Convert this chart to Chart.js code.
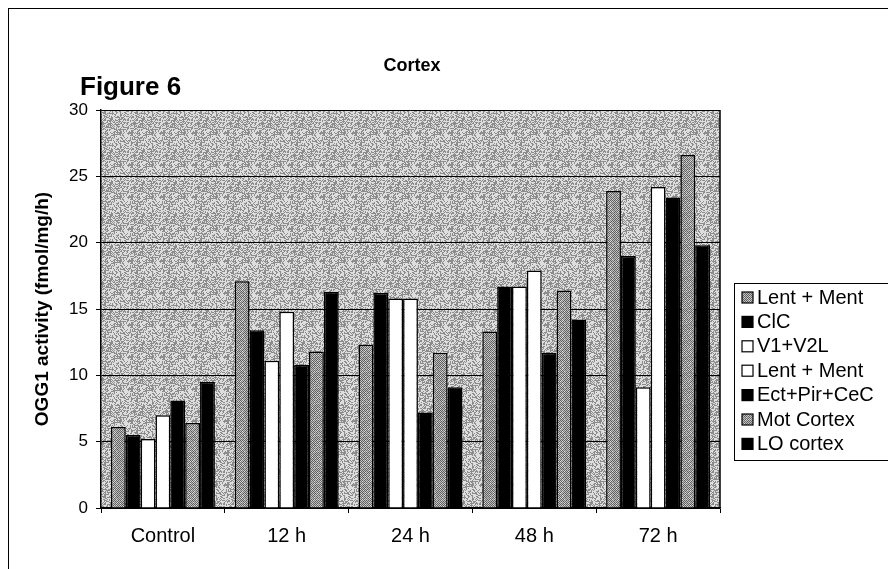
<!DOCTYPE html>
<html>
<head>
<meta charset="utf-8">
<script src="https://cdn.jsdelivr.net/npm/chart.js@4.4.0/dist/chart.umd.min.js"></script>
<style>
html, body { margin: 0; padding: 0; background: #fff; }
#wrap { width: 888px; height: 569px; position: relative; }
</style>
</head>
<body>
<div id="wrap"><canvas id="chart" width="888" height="569"></canvas></div>
<script>
// data
const categories = ['Control', '12 h', '24 h', '48 h', '72 h'];
const lentMentA = [6.1, 17.1, 12.3, 13.3, 23.9];
const clc = [5.5, 13.4, 16.2, 16.7, 19.0];
const v1v2l = [5.2, 11.1, 15.8, 16.7, 9.1];
const lentMentB = [7.0, 14.8, 15.8, 17.9, 24.2];
const ectPirCec = [8.1, 10.8, 7.2, 11.7, 23.4];
const motCortex = [6.4, 11.8, 11.7, 16.4, 26.6];
const loCortex = [9.5, 16.3, 9.1, 14.2, 19.8];
const seriesNames = ['Lent + Ment', 'ClC', 'V1+V2L', 'Lent + Ment', 'Ect+Pir+CeC', 'Mot Cortex', 'LO cortex'];
const yTicks = [0, 5, 10, 15, 20, 25, 30];

const FONT = '"Liberation Sans", Arial, sans-serif';
const canvas = document.getElementById('chart');
const ctx = canvas.getContext('2d');

// small deterministic stipple so the fills look like the scanned print
function hash(x, y) {
    let h = (x * 374761393 + y * 668265263) | 0;
    h = (h ^ (h >>> 13)) * 1274126177 | 0;
    return ((h ^ (h >>> 16)) >>> 0) / 4294967295;
}
function makePattern(size, shade) {
    const c = document.createElement('canvas');
    c.width = c.height = size;
    const g = c.getContext('2d');
    const img = g.createImageData(size, size);
    for (let y = 0; y < size; y++) {
        for (let x = 0; x < size; x++) {
            const v = shade(x, y);
            const i = (y * size + x) * 4;
            img.data[i] = img.data[i + 1] = img.data[i + 2] = v;
            img.data[i + 3] = 255;
        }
    }
    g.putImageData(img, 0, 0);
    return ctx.createPattern(c, 'repeat');
}
const plotBg = makePattern(32, (x, y) => hash(x, y) < 0.42 ? 140 : 222);
const grayFill = makePattern(16, (x, y) => ((x + y) % 2 === 0 ? 95 : 190) + (hash(x + 7, y + 3) < 0.2 ? 30 : 0));

const fills = [grayFill, '#000', '#fff', '#fff', '#000', grayFill, '#000'];
const values = [lentMentA, clc, v1v2l, lentMentB, ectPirCec, motCortex, loCortex];

const datasets = values.map((v, i) => ({
    label: seriesNames[i],
    data: v,
    backgroundColor: fills[i],
    borderColor: '#000',
    borderWidth: 1.5,
    categoryPercentage: 0.84,
    barPercentage: 1.0
}));

// background, frame, titles and the boxed legend
const decor = {
    id: 'decor',
    beforeDraw(chart) {
        const c = chart.ctx;
        const a = chart.chartArea;
        c.save();
        c.fillStyle = plotBg;
        c.fillRect(a.left, a.top, a.right - a.left, a.bottom - a.top);
        c.strokeStyle = '#000';
        c.lineWidth = 1;
        c.strokeRect(8.5, 8.5, 900, 600);
        c.fillStyle = '#000';
        c.font = 'bold 26px ' + FONT;
        c.textBaseline = 'middle';
        c.textAlign = 'left';
        c.fillText('Figure 6', 80, 88);
        c.font = 'bold 18px ' + FONT;
        c.textAlign = 'center';
        c.fillText('Cortex', 412, 66);
        c.restore();
    },
    beforeDatasetsDraw(chart) {
        const c = chart.ctx;
        const a = chart.chartArea;
        c.save();
        c.strokeStyle = '#000';
        c.lineWidth = 1.5;
        c.beginPath();
        c.moveTo(a.right, a.top);
        c.lineTo(a.right, a.bottom);
        c.stroke();
        c.restore();
    },
    afterDraw(chart) {
        const c = chart.ctx;
        c.save();
        c.strokeStyle = '#000';
        c.lineWidth = 1;
        c.strokeRect(734.5, 283.5, 170, 177);
        c.font = '20px ' + FONT;
        c.textBaseline = 'middle';
        c.textAlign = 'left';
        chart.data.datasets.forEach((ds, i) => {
            const y = 297 + i * 24.4;
            c.fillStyle = ds.backgroundColor;
            c.fillRect(742, y - 5, 11, 11);
            c.strokeStyle = '#000';
            c.lineWidth = 1.2;
            c.strokeRect(742, y - 5, 11, 11);
            c.fillStyle = '#000';
            c.fillText(ds.label, 757, y + 1);
        });
        c.restore();
    }
};

new Chart(ctx, {
    type: 'bar',
    data: { labels: categories, datasets: datasets },
    options: {
        responsive: false,
        animation: false,
        layout: { padding: { left: 27, top: 110, right: 168, bottom: 0 } },
        plugins: {
            legend: { display: false },
            tooltip: { enabled: false }
        },
        scales: {
            x: {
                grid: { drawOnChartArea: false, drawTicks: true, tickLength: 5, color: '#000', offset: true },
                border: { display: true, color: '#000', width: 1.5 },
                ticks: { color: '#000', font: { family: FONT, size: 20 }, padding: 11 },
                afterFit(scale) { scale.height = 61; }
            },
            y: {
                min: 0,
                max: 30,
                afterBuildTicks(scale) { scale.ticks = yTicks.map(v => ({ value: v })); },
                grid: { color: '#000', lineWidth: 1, tickLength: 5, drawTicks: true },
                border: { display: true, color: '#000', width: 1.5 },
                ticks: { color: '#000', font: { family: FONT, size: 17 }, padding: 8 },
                title: {
                    display: true,
                    text: 'OGG1 activity (fmol/mg/h)',
                    color: '#000',
                    font: { family: FONT, size: 19, weight: 'bold' },
                    padding: { top: 4, bottom: 4 }
                },
                afterFit(scale) { scale.width = 74; }
            }
        }
    },
    plugins: [decor]
});
</script>
</body>
</html>
